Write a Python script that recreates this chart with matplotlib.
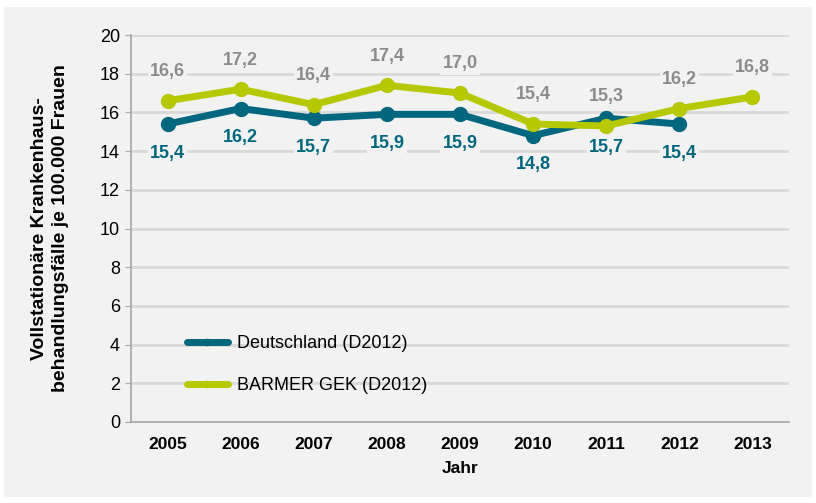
import numpy as np
import matplotlib.pyplot as plt
from matplotlib.patches import Rectangle

plt.rcParams['font.family'] = ['Liberation Sans', 'DejaVu Sans']

years = ['2005', '2006', '2007', '2008', '2009', '2010', '2011', '2012', '2013']
deutschland = [15.4, 16.2, 15.7, 15.9, 15.9, 14.8, 15.7, 15.4]
barmer = [16.6, 17.2, 16.4, 17.4, 17.0, 15.4, 15.3, 16.2, 16.8]

teal = '#00677f'
green = '#b5c800'
bg = '#f2f2f2'

fig = plt.figure(figsize=(8.16, 5.03), dpi=100)
fig.patch.set_facecolor('white')
fig.patches.append(Rectangle((4/816, 6/503), 808/816, 490/503, transform=fig.transFigure,
                             facecolor=bg, edgecolor='none', zorder=-10))

ax = fig.add_axes([131/816, 1 - 422/503, 658/816, 387/503])
ax.set_facecolor(bg)

x = np.arange(len(years))
ax.plot(x[:len(deutschland)], deutschland, color=teal, lw=5, marker='o', ms=10,
        solid_capstyle='round', label='Deutschland (D2012)', zorder=3)
ax.plot(x, barmer, color=green, lw=5, marker='o', ms=10,
        solid_capstyle='round', label='BARMER GEK (D2012)', zorder=4)

box = dict(facecolor=bg, edgecolor='none', pad=1.5)
for i, v in enumerate(barmer):
    ax.annotate(f'{v:.1f}'.replace('.', ','), (i, v), xytext=(0, 21), textcoords='offset points',
                ha='center', va='center', color='#8c8c8c', fontsize=13, fontweight='bold',
                bbox=box, zorder=5)
for i, v in enumerate(deutschland):
    ax.annotate(f'{v:.1f}'.replace('.', ','), (i, v), xytext=(0, -21), textcoords='offset points',
                ha='center', va='center', color=teal, fontsize=13, fontweight='bold',
                bbox=box, zorder=5)

ax.set_xlim(-0.5, 8.5)
ax.set_ylim(0, 20)
ax.set_yticks(np.arange(0, 21, 2))
ax.set_xticks(x)
ax.set_xticklabels(years, fontweight='bold', fontsize=12.5)
ax.tick_params(axis='x', length=0, pad=11)
ax.tick_params(axis='y', length=4, color='#a6a6a6', labelsize=13, pad=4)
ax.grid(axis='y', color='#d9d9d9', lw=2)
ax.set_axisbelow(True)
for s in ['top', 'right']:
    ax.spines[s].set_visible(False)
for s in ['left', 'bottom']:
    ax.spines[s].set_color('#a6a6a6')
    ax.spines[s].set_linewidth(1.2)

ax.set_xlabel('Jahr', fontweight='bold', fontsize=12.5, labelpad=6)
ax.set_ylabel('Vollstationäre Krankenhaus-\nbehandlungsfälle je 100.000 Frauen',
              fontweight='bold', fontsize=14, labelpad=22, linespacing=1.3)

leg = ax.legend(loc='lower left', bbox_to_anchor=(0.06, 0.03), frameon=False,
                fontsize=13, handlelength=2.3, handletextpad=0.5, labelspacing=1.4,
                markerscale=0.45)
for h in leg.legend_handles:
    h.set_linewidth(5)

fig.savefig('out.png', dpi=100, facecolor=fig.get_facecolor())
